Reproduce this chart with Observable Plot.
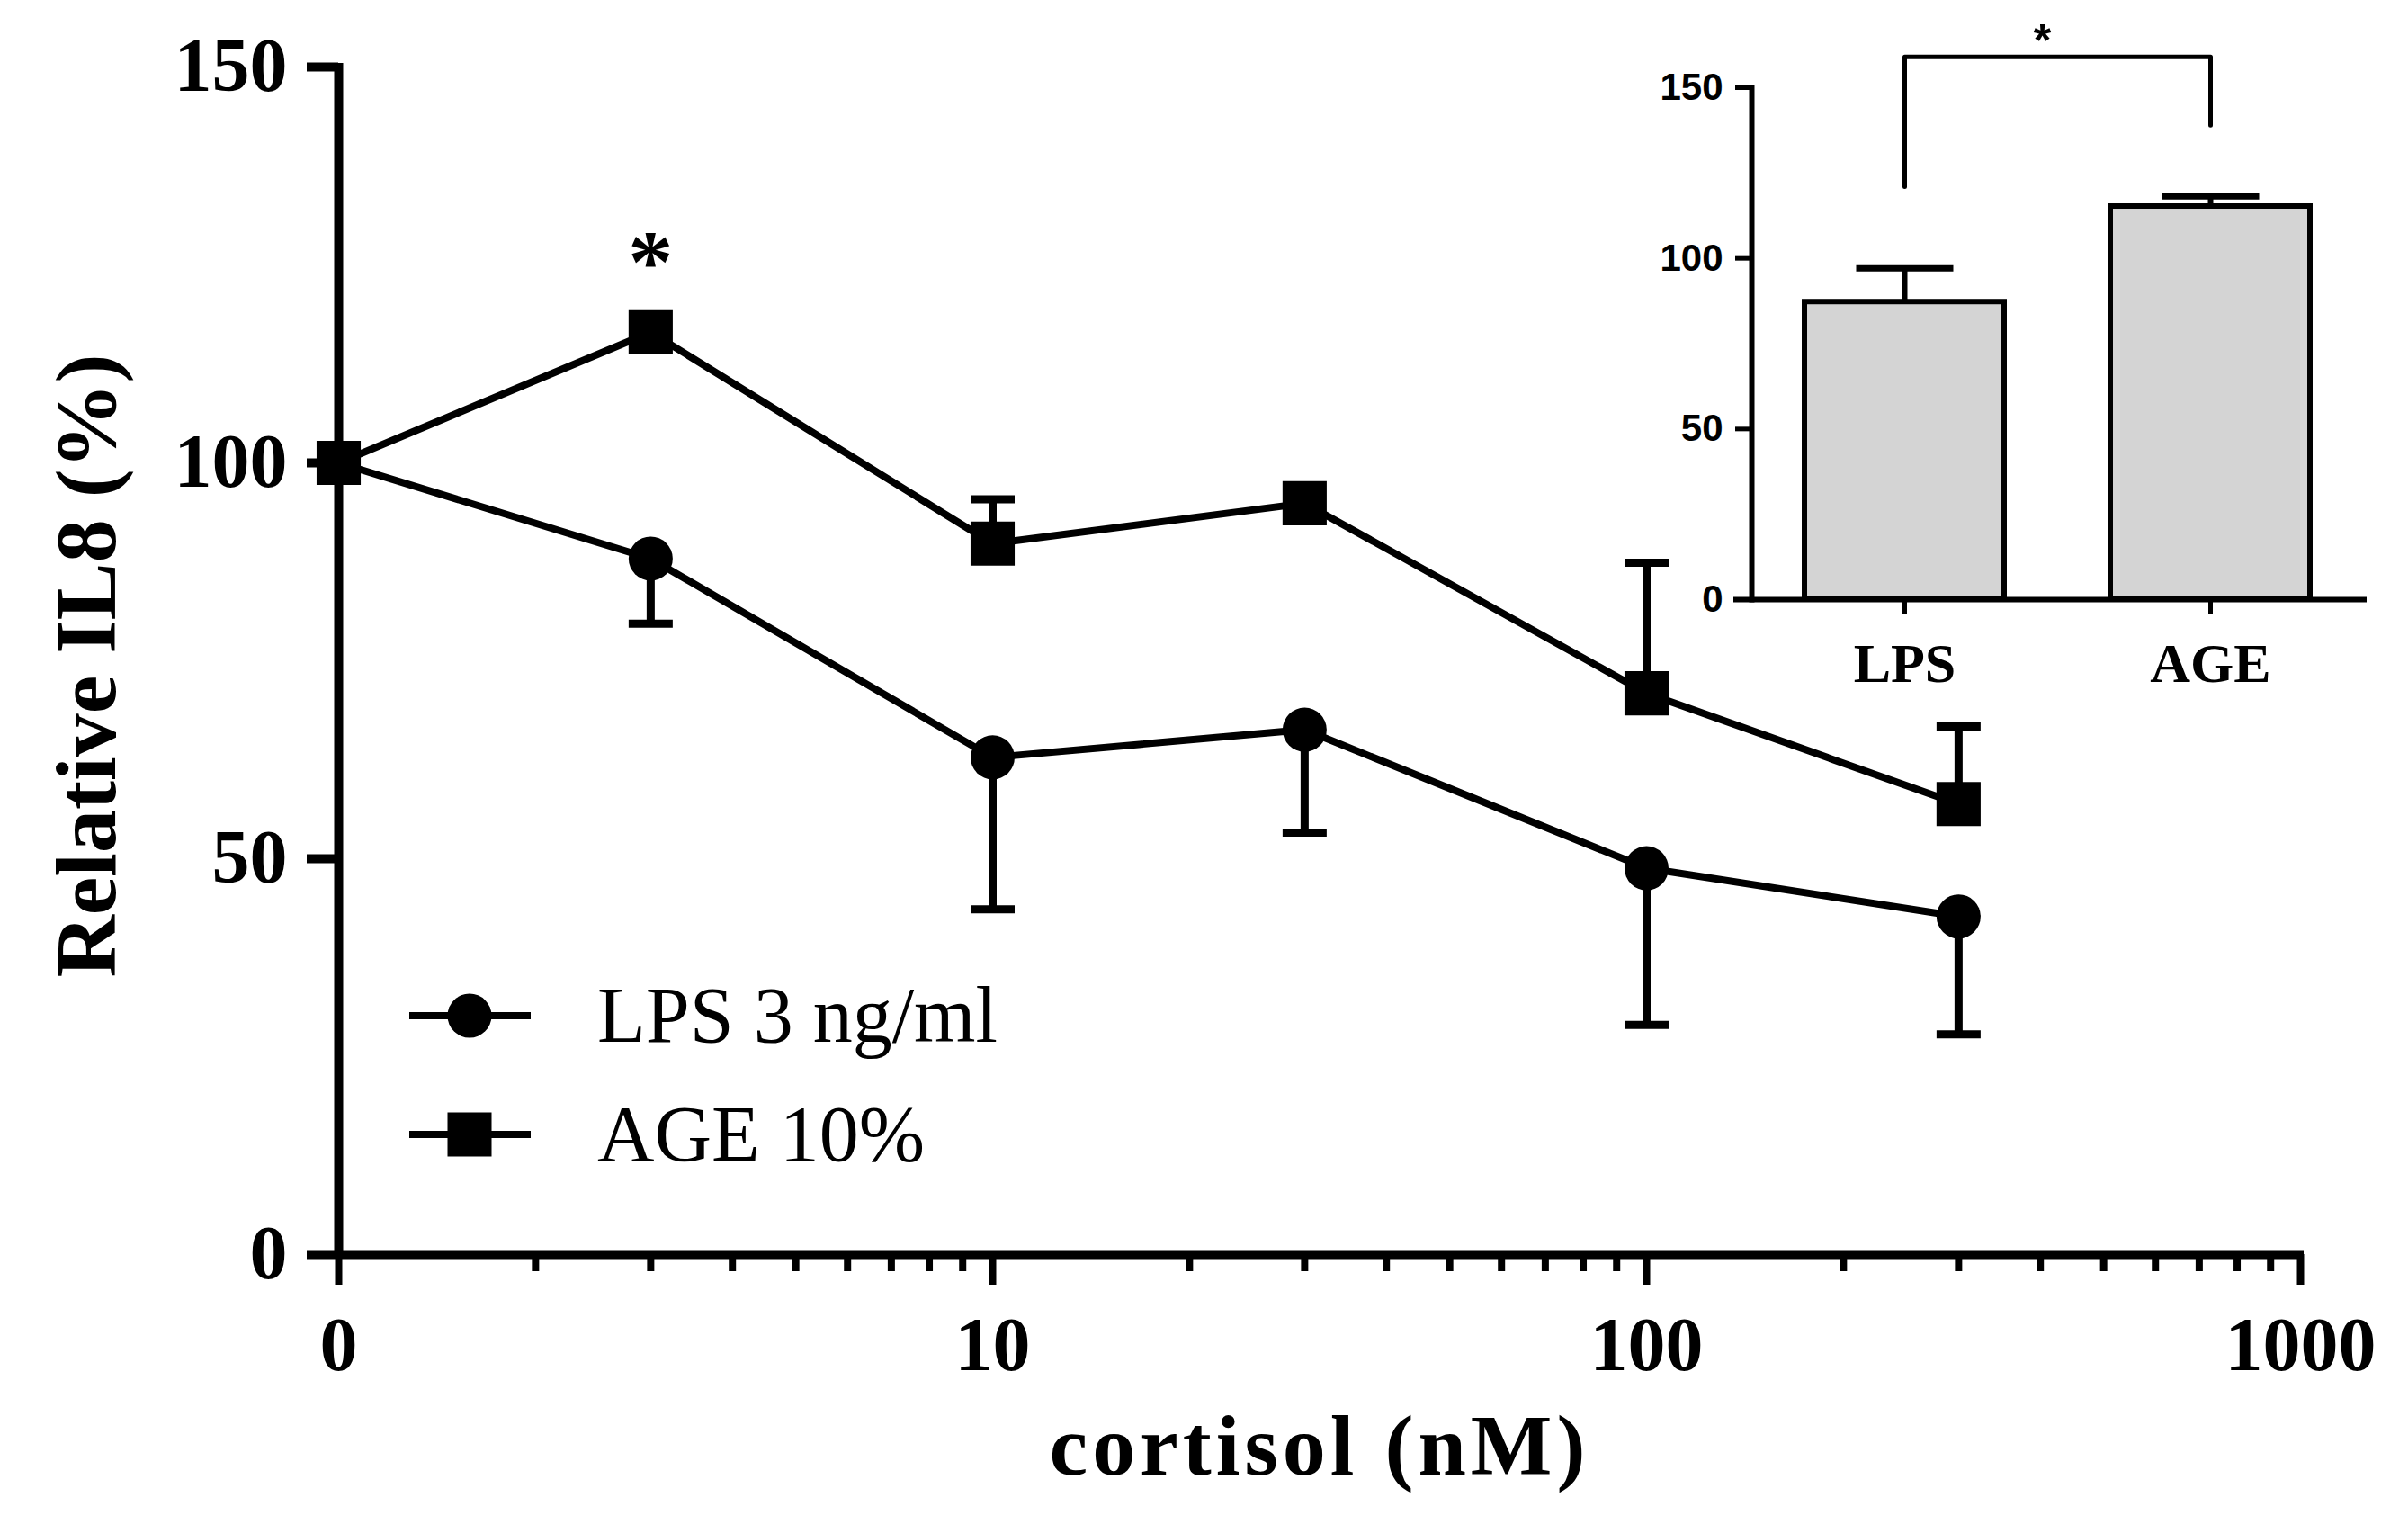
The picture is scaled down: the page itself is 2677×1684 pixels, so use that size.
<!DOCTYPE html>
<html>
<head>
<meta charset="utf-8">
<script src="https://cdn.jsdelivr.net/npm/d3@7"></script>
<script src="https://cdn.jsdelivr.net/npm/@observablehq/plot@0.6"></script>
<style>
  body { margin: 0; background: #fff; }
  #chart { position: relative; width: 2677px; height: 1684px; background: #fff; }
  #chart svg { position: absolute; overflow: visible; }
  #ytitle { position: absolute; left: 96px; top: 740px; transform: translate(-50%, -50%) rotate(-90deg);
    font-family: "Liberation Serif", serif; font-weight: bold; font-size: 96px; white-space: nowrap; line-height: 1; }
  #legend { position: absolute; left: 455px; top: 1089px; font-family: "Liberation Serif", serif; font-size: 88px; }
  #legend .row { display: flex; align-items: center; height: 80px; margin-bottom: 52px; }
  #legend svg { position: static; }
  #legend span { margin-left: 74px; line-height: 80px; }
</style>
</head>
<body>
<div id="chart"></div>
<script>
// concentraciones de cortisol (nM); la "0" se dibuja en 1 sobre el eje log
const conc = [1, 3, 10, 30, 100, 300];
const lpsMean = [100, 87.9, 62.8, 66.3, 48.8, 42.7];
const lpsErr = [0, 8.2, 19.2, 13.0, 19.8, 14.9];
const ageMean = [100, 116.5, 89.8, 94.9, 70.9, 56.9];
const ageErr = [0, 0, 5.6, 0, 16.5, 9.8];

const xMajor = [1, 10, 100, 1000];
const xMajorLabels = ["0", "10", "100", "1000"];
const xMinor = [2, 3, 4, 5, 6, 7, 8, 9, 20, 30, 40, 50, 60, 70, 80, 90, 200, 300, 400, 500, 600, 700, 800, 900];
const yTicks = [0, 50, 100, 150];
const seriesNames = ["LPS 3 ng/ml", "AGE 10%"];
const starMain = [{conc: 3, y: 121.7, label: "*"}];

// inset
const insetGroups = ["LPS", "AGE"];
const insetMean = [87.2, 115.2];
const insetErr = [9.9, 3.0];
const insetTicks = [0, 50, 100, 150];
const bracketGroups = ["LPS", "LPS", "AGE", "AGE"];
const bracketValues = [121, 159, 159, 139];

const W = 2677, H = 1684;
const serif = "Liberation Serif, Times New Roman, serif";
const sans = "Liberation Sans, Arial, sans-serif";

const lps = conc.map((c, i) => ({conc: c, v: lpsMean[i], lo: lpsMean[i] - lpsErr[i], err: lpsErr[i]}));
const age = conc.map((c, i) => ({conc: c, v: ageMean[i], hi: ageMean[i] + ageErr[i], err: ageErr[i]}));
const labelOf = new Map(xMajor.map((d, i) => [d, xMajorLabels[i]]));

// símbolo rectangular para las tapas de las barras de error
const capSymbol = (w, h) => ({
  draw(context) {
    context.moveTo(-w / 2, -h / 2);
    context.lineTo(w / 2, -h / 2);
    context.lineTo(w / 2, h / 2);
    context.lineTo(-w / 2, h / 2);
    context.closePath();
  }
});

const main = Plot.plot({
  width: W,
  height: H,
  marginLeft: 376,
  marginRight: 120,
  marginTop: 74,
  marginBottom: 290,
  style: {fontFamily: serif, fontSize: "84px", fontWeight: "bold", background: "transparent", color: "#000"},
  x: {type: "log", domain: [1, 1000], label: null},
  y: {domain: [0, 150], label: null},
  marks: [
    Plot.axisX(xMinor, {tickSize: 19, strokeWidth: 8, tickFormat: () => "", label: null}),
    Plot.axisX(xMajor, {tickSize: 34, tickPadding: 35, strokeWidth: 8, tickFormat: d => labelOf.get(d), label: null, fontSize: 84, fontFamily: serif, fontWeight: "bold"}),
    Plot.axisY(yTicks, {tickSize: 35, tickPadding: 22, strokeWidth: 10, label: null, fontSize: 84, fontFamily: serif, fontWeight: "bold"}),
    Plot.ruleY([0], {strokeWidth: 10, insetRight: -4}),
    Plot.ruleX([1], {strokeWidth: 10, insetTop: -4}),
    Plot.line(lps, {x: "conc", y: "v", strokeWidth: 8, stroke: "#000"}),
    Plot.line(age, {x: "conc", y: "v", strokeWidth: 8, stroke: "#000"}),
    Plot.ruleX(lps.filter(d => d.err > 0), {x: "conc", y1: "v", y2: "lo", strokeWidth: 9}),
    Plot.dot(lps.filter(d => d.err > 0), {x: "conc", y: "lo", symbol: capSymbol(49, 9), fill: "#000", r: 10}),
    Plot.ruleX(age.filter(d => d.err > 0), {x: "conc", y1: "v", y2: "hi", strokeWidth: 9}),
    Plot.dot(age.filter(d => d.err > 0), {x: "conc", y: "hi", symbol: capSymbol(49, 9), fill: "#000", r: 10}),
    Plot.dot(lps, {x: "conc", y: "v", symbol: "circle", r: 24.5, fill: "#000"}),
    Plot.dot(age, {x: "conc", y: "v", symbol: "square", r: 27.7, fill: "#000"}),
    Plot.text(starMain, {x: "conc", y: "y", text: "label", lineAnchor: "bottom", fontSize: 100, fontFamily: serif, fontWeight: "bold"}),
    Plot.text(["cortisol (nM)"], {text: d => d, frameAnchor: "bottom", dy: 244, lineAnchor: "bottom", fontSize: 96, fontFamily: serif, fontWeight: "bold"})
  ]
});
main.style.left = "0px";
main.style.top = "0px";
d3.select(main).selectAll("text").filter(function() { return this.textContent === "cortisol (nM)"; })
  .style("letter-spacing", "5px");

const insetBars = insetGroups.map((g, i) => ({g, v: insetMean[i], hi: insetMean[i] + insetErr[i]}));
const bracket = bracketGroups.map((g, i) => ({g, v: bracketValues[i]}));

const inset = Plot.plot({
  width: 827,
  height: 800,
  marginLeft: 97,
  marginRight: 50,
  marginTop: 97,
  marginBottom: 134,
  style: {fontFamily: sans, fontSize: "42px", fontWeight: "bold", background: "transparent", color: "#000"},
  x: {type: "band", domain: insetGroups, paddingInner: 0.347, paddingOuter: 0.173, label: null},
  y: {domain: [0, 150], label: null},
  marks: [
    Plot.barY(insetBars, {x: "g", y: "v", fill: "#d4d4d4", stroke: "#000", strokeWidth: 6}),
    Plot.ruleX(insetBars, {x: "g", y1: "v", y2: "hi", strokeWidth: 6}),
    Plot.dot(insetBars, {x: "g", y: "hi", symbol: capSymbol(108, 7), fill: "#000", r: 10}),
    Plot.line(bracket, {x: "g", y: "v", strokeWidth: 5, stroke: "#000"}),
    Plot.text(["*"], {text: d => d, frameAnchor: "top", dx: -17, dy: -36, lineAnchor: "bottom", fontSize: 50, fontFamily: sans, fontWeight: "bold"}),
    Plot.axisY(insetTicks, {tickSize: 18, tickPadding: 14, strokeWidth: 5, label: null, fontSize: 42, fontFamily: sans, fontWeight: "bold"}),
    Plot.axisX({tickSize: 16, tickPadding: 31, strokeWidth: 5, label: null, fontSize: 62, fontFamily: serif, fontWeight: "bold"}),
    Plot.frame({anchor: "left", strokeWidth: 6}),
    Plot.ruleY([0], {strokeWidth: 6, insetLeft: -20, insetRight: -4})
  ]
});
inset.style.left = "1850px";
inset.style.top = "0px";

const chart = document.getElementById("chart");
chart.append(main, inset);

d3.select(chart).append("div").attr("id", "ytitle").text("Relative IL8 (%)");

// leyenda en HTML con muestras de línea y marcador
const legend = d3.select(chart).append("div").attr("id", "legend");
seriesNames.forEach((name, i) => {
  const row = legend.append("div").attr("class", "row");
  const sw = row.append("svg").attr("width", 135).attr("height", 80);
  sw.append("line").attr("x1", 0).attr("x2", 135).attr("y1", 40).attr("y2", 40)
    .attr("stroke", "#000").attr("stroke-width", 8);
  if (i === 0) sw.append("circle").attr("cx", 67).attr("cy", 40).attr("r", 24.5).attr("fill", "#000");
  else sw.append("rect").attr("x", 67 - 24.5).attr("y", 40 - 24.5).attr("width", 49).attr("height", 49).attr("fill", "#000");
  row.append("span").text(name);
});
</script>
</body>
</html>
